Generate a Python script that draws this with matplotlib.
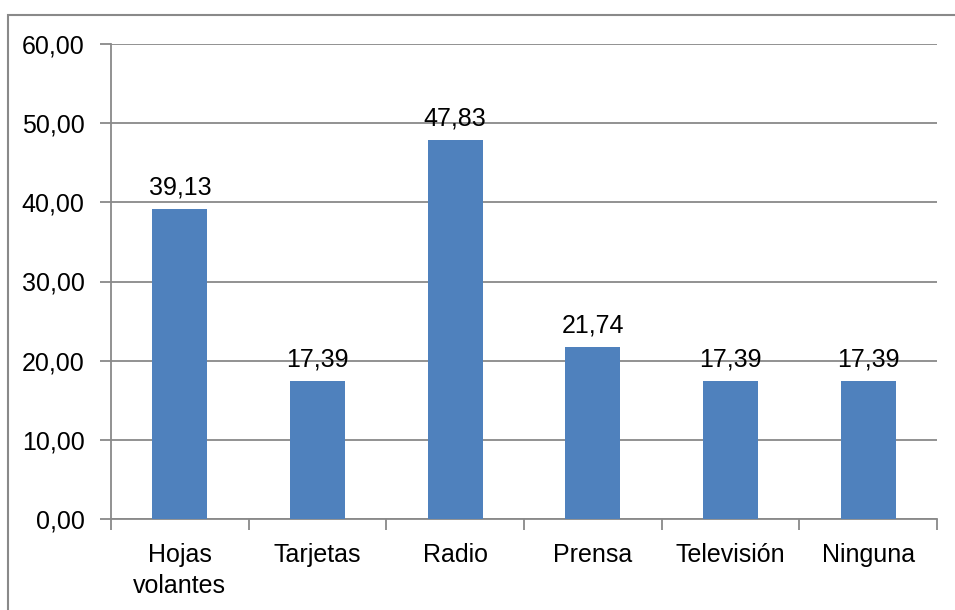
import numpy as np
import matplotlib.pyplot as plt
from matplotlib.patches import Rectangle

# Medios por los que se enteraron (%)
categorias = ["Hojas\nvolantes", "Tarjetas", "Radio", "Prensa", "Televisión", "Ninguna"]
porcentajes = [39.13, 17.39, 47.83, 21.74, 17.39, 17.39]
yticks = [0, 10, 20, 30, 40, 50, 60]

plt.rcParams['font.family'] = ['Liberation Sans', 'DejaVu Sans']
gris = "#898989"

fig = plt.figure(figsize=(9.55, 6.1), dpi=100)
ax = fig.add_axes([111/955, 1 - 519/610, (937 - 111)/955, (519 - 44)/610])

x = np.arange(len(categorias))
ax.bar(x, porcentajes, width=0.4, color="#4F81BD", zorder=3)

for xi, v in zip(x, porcentajes):
    ax.annotate(f"{v:.2f}".replace(".", ","), (xi, v), xytext=(0, 7),
                textcoords="offset points", ha="center", va="bottom", fontsize=18)

ax.set_xlim(-0.5, len(categorias) - 0.5)
ax.set_ylim(0, 60)
ax.set_yticks(yticks)
ax.set_yticklabels([f"{t:.2f}".replace(".", ",") for t in yticks], fontsize=18)
ax.yaxis.grid(True, color=gris, linewidth=1.3, zorder=0)

# etiquetas centradas, marcas en los limites de cada categoria
ax.set_xticks(x)
ax.set_xticklabels(categorias, fontsize=18, linespacing=1.4)
ax.tick_params(axis="x", length=0, pad=17)
ax.set_xticks(np.arange(-0.5, len(categorias)), minor=True)
ax.tick_params(axis="x", which="minor", length=8, width=1.3, color=gris)
ax.tick_params(axis="y", length=8, width=1.3, color=gris, pad=11)

for s in ["top", "right"]:
    ax.spines[s].set_visible(False)
for s in ["left", "bottom"]:
    ax.spines[s].set_color(gris)
    ax.spines[s].set_linewidth(1.3)

# marco exterior del grafico
fig.patches.append(Rectangle((8/955, -0.1), 1.1, 1 - 15/610 + 0.1,
                             transform=fig.transFigure, fill=False,
                             edgecolor=gris, linewidth=1.5))

fig.savefig("out.png", dpi=100)
